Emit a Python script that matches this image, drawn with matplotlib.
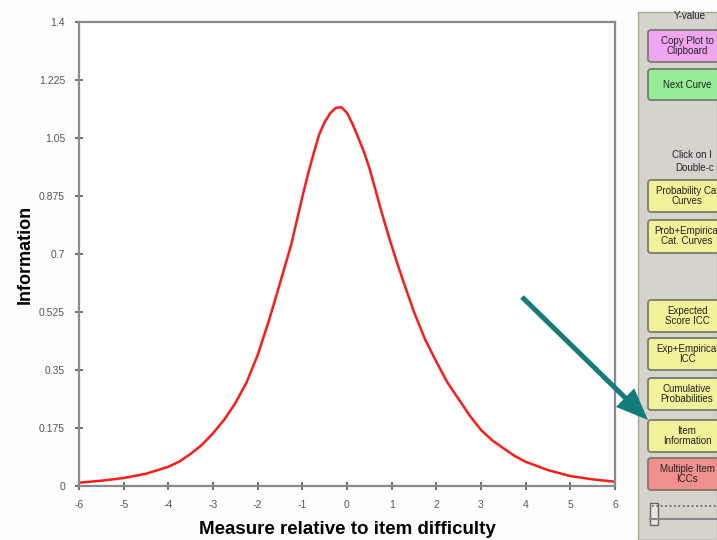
import numpy as np
import matplotlib.pyplot as plt
from matplotlib.patches import Rectangle, FancyBboxPatch, FancyArrow

plt.rcParams['font.family'] = ['Liberation Sans', 'DejaVu Sans']

# ---------- data
measure = [-6, -5.5, -5, -4.5, -4, -3.75, -3.5, -3.25, -3, -2.75, -2.5, -2.25,
           -2, -1.75, -1.5, -1.25, -1.125, -1, -0.875, -0.75, -0.625, -0.5,
           -0.375, -0.25, -0.125, 0, 0.125, 0.25, 0.375, 0.5, 0.625, 0.75,
           0.875, 1, 1.125, 1.25, 1.5, 1.75, 2, 2.25, 2.5, 2.75, 3, 3.25, 3.5,
           3.75, 4, 4.5, 5, 5.5, 6]
information = [0.010, 0.016, 0.024, 0.037, 0.058, 0.074, 0.097, 0.124, 0.159,
               0.200, 0.250, 0.312, 0.395, 0.498, 0.612, 0.728, 0.800, 0.872,
               0.940, 1.002, 1.060, 1.098, 1.125, 1.141, 1.143, 1.126, 1.092,
               1.052, 1.010, 0.960, 0.900, 0.838, 0.780, 0.725, 0.672, 0.622,
               0.525, 0.442, 0.375, 0.312, 0.262, 0.212, 0.169, 0.138, 0.114,
               0.091, 0.073, 0.048, 0.030, 0.020, 0.013]

xticks = [-6, -5, -4, -3, -2, -1, 0, 1, 2, 3, 4, 5, 6]
yticks = [0, 0.175, 0.35, 0.525, 0.7, 0.875, 1.05, 1.225, 1.4]
ytick_labels = ['0', '0.175', '0.35', '0.525', '0.7', '0.875', '1.05', '1.225', '1.4']

# side panel buttons: label, colour, top, bottom (pixels)
buttons = [('Copy Plot to\nClipboard', '#eea6ee', 30, 62),
           ('Next Curve', '#98ec98', 69, 100),
           ('Probability Cat\nCurves', '#f2f29a', 180, 212),
           ('Prob+Empirical\nCat. Curves', '#f2f29a', 220, 253),
           ('Expected\nScore ICC', '#f2f29a', 300, 332),
           ('Exp+Empirical\nICC', '#f2f29a', 338, 370),
           ('Cumulative\nProbabilities', '#f2f29a', 378, 410),
           ('Item\nInformation', '#f2f29a', 420, 452),
           ('Multiple Item\nICCs', '#f0908c', 458, 490)]

W, H = 717, 540
fig = plt.figure(figsize=(W/100, H/100), dpi=100)
fig.patch.set_facecolor('#fdfdfd')

ax = fig.add_axes([79/W, 1-486/H, (615-79)/W, (486-22)/H])
ax.plot(measure, information, '-', color='#ff1a1a', linewidth=1.8,
        solid_joinstyle='round')
ax.set_xlim(-6, 6)
ax.set_ylim(0, 1.4)
ax.set_xticks(xticks)
ax.set_xticklabels([str(t) for t in xticks])
ax.set_yticks(yticks)
ax.set_yticklabels(ytick_labels)
ax.tick_params(direction='inout', length=6, width=1.2, color='#555555',
               labelsize=7.5, labelcolor='#555555', pad=7)
for s in ax.spines.values():
    s.set_color('#8a8a8a')
    s.set_linewidth(1.6)
ax.set_xlabel('Measure relative to item difficulty', fontsize=13.5,
              fontweight='bold', labelpad=8)
ax.set_ylabel('Information', fontsize=13, fontweight='bold', labelpad=4)

# ---------- overlay in pixel coordinates for the GUI panel and arrow
ov = fig.add_axes([0, 0, 1, 1], zorder=5)
ov.set_xlim(0, W)
ov.set_ylim(H, 0)
ov.axis('off')
ov.patch.set_alpha(0)

ov.add_patch(Rectangle((638, 12), W-638, H-12, facecolor='#d6d3cc',
                       edgecolor='#a8a59e', linewidth=1))
ov.text(690, 16, 'Y-value', fontsize=7, ha='center', va='center', color='#222222')
ov.text(692, 155, 'Click on I', fontsize=7, ha='center', va='center', color='#222222')
ov.text(695, 168, 'Double-c', fontsize=7, ha='center', va='center', color='#222222')

for label, col, top, bot in buttons:
    ov.add_patch(FancyBboxPatch((648, top), 90, bot-top,
                                boxstyle='round,pad=0,rounding_size=3',
                                facecolor=col, edgecolor='#7a7a70', linewidth=1.3))
    ov.text(687, (top+bot)/2, label, fontsize=7, ha='center', va='center',
            color='#222222', linespacing=1.0)

# slider
ov.plot([652, 717], [506, 506], ':', color='#555555', linewidth=1.2)
ov.plot([650, 717], [519, 519], '-', color='#888888', linewidth=1.5)
ov.add_patch(Rectangle((650, 503), 8, 22, facecolor='#e8e6e0',
                       edgecolor='#666666', linewidth=1))

# teal arrow
ov.add_patch(FancyArrow(522, 297, 648-522, 420-297, width=5, head_width=26,
                        head_length=32, length_includes_head=True,
                        color='#137b78', linewidth=0))

fig.savefig('out.png', dpi=100)
